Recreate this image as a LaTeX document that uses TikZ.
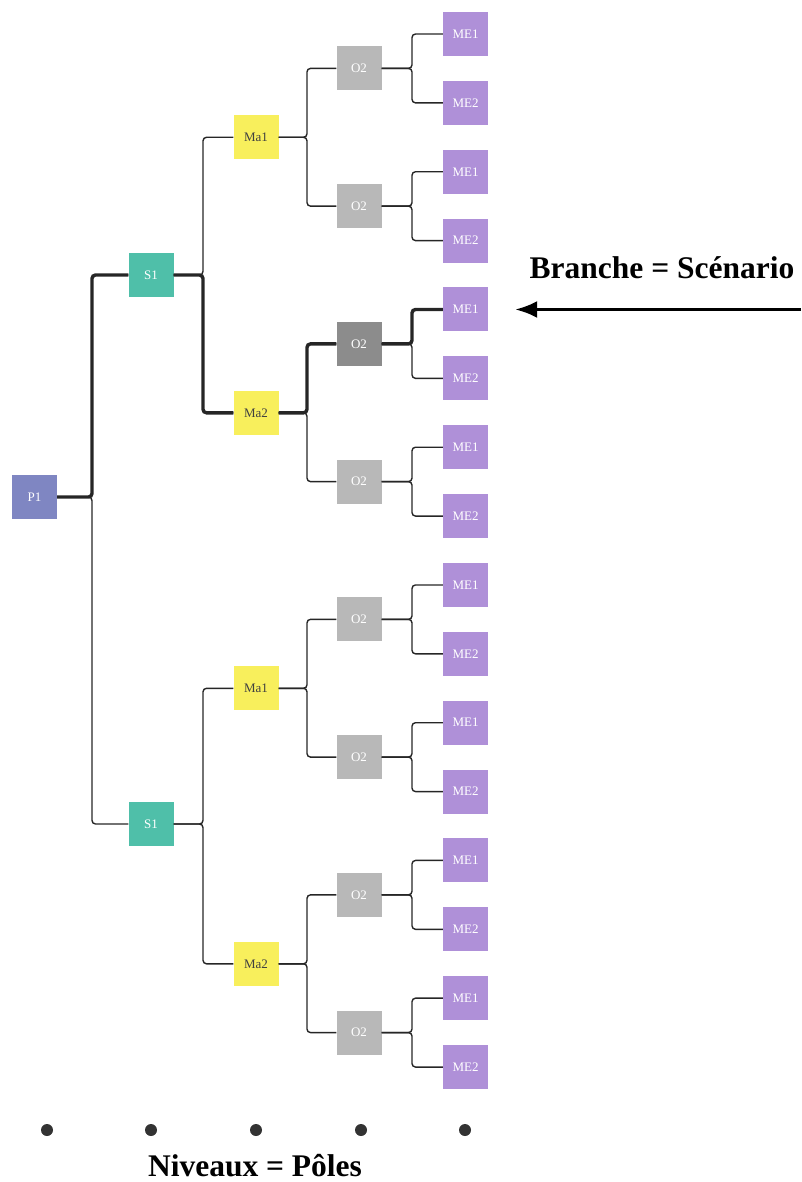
\documentclass[tikz,border=0pt]{standalone}
\usepackage{fontspec}
\setmainfont{Liberation Serif}
\usetikzlibrary{arrows.meta}

\definecolor{polecol}{HTML}{7F86C2}
\definecolor{scol}{HTML}{4FBFA9}
\definecolor{macol}{HTML}{F8EF5C}
\definecolor{ocol}{HTML}{B8B8B8}
\definecolor{oselcol}{HTML}{8C8C8C}
\definecolor{mecol}{HTML}{AF90D8}

\begin{document}
\begin{tikzpicture}[x=1pt, y=-1pt, font=\fontsize{13}{15}\selectfont,
  box/.style={minimum width=45pt, minimum height=44pt, inner sep=0pt, text=white},
  link/.style={draw=black!85, line width=1.4pt, rounded corners=3.5pt},
  scen/.style={link, line width=3.4pt},
  pointer/.style={-{Latex[length=22pt, width=17pt]}, line width=3pt},
  ]
  \useasboundingbox (0,0) rectangle (801,1182);

  %%% junction columns %%%
  \coordinate (jx1) at (92,0);
  \coordinate (jx2) at (203,0);
  \coordinate (jx3) at (307,0);
  \coordinate (jx4) at (412,0);
  \coordinate (rim) at (801,0);

  %%% tree levels %%%
  \node[box, fill=polecol] (p1) at (34.5,497) {P1};
  \foreach \i in {0,1}
    \node[box, fill=scol] (s1-\i) at (151,275+549*\i) {S1};
  \foreach \i in {0,...,3} {
    \pgfmathtruncatemacro{\k}{mod(\i,2)+1}
    \node[box, fill=macol, text=black!75] (ma-\i) at (256,137.3+275.5*\i) {Ma\k};
  }
  \foreach \i in {0,...,7} {
    \ifnum\i=2 \def\oc{oselcol}\else\def\oc{ocol}\fi
    \node[box, fill=\oc] (o2-\i) at (359,68.4+137.74*\i) {O2};
  }
  \foreach \i in {0,...,15} {
    \pgfmathtruncatemacro{\k}{mod(\i,2)+1}
    \node[box, fill=mecol] (me-\i) at (465.5,34+68.87*\i) {ME\k};
  }

  %%% connectors %%%
  \foreach \c in {0,1}
    \draw[link] (p1) -- (p1 -| jx1) |- (s1-\c);
  \foreach \c [evaluate=\c as \p using int(\c/2)] in {0,...,3}
    \draw[link] (s1-\p) -- (s1-\p -| jx2) |- (ma-\c);
  \foreach \c [evaluate=\c as \p using int(\c/2)] in {0,...,7}
    \draw[link] (ma-\p) -- (ma-\p -| jx3) |- (o2-\c);
  \foreach \c [evaluate=\c as \p using int(\c/2)] in {0,...,15}
    \draw[link] (o2-\p) -- (o2-\p -| jx4) |- (me-\c);

  %%% highlighted scenario %%%
  \draw[scen] (p1) -- (p1 -| jx1) |- (s1-0);
  \draw[scen] (s1-0) -- (s1-0 -| jx2) |- (ma-1);
  \draw[scen] (ma-1) -- (ma-1 -| jx3) |- (o2-2);
  \draw[scen] (o2-2) -- (o2-2 -| jx4) |- (me-4);

  %%% branch caption %%%
  \node[font=\bfseries\fontsize{31.5}{34}\selectfont] (branch) at (662,268) {Branche = Scénario};
  \coordinate (arrow-start) at (me-4 -| rim);
  \draw[pointer, shorten >=27pt] (arrow-start) -- (me-4);

  %%% level dots %%%
  \foreach \dx in {47,151,256,361,465}
    \fill[black!80] (\dx,1130) circle (6pt);
  \node[font=\bfseries\fontsize{31.5}{34}\selectfont] (levels) at (255,1166) {Niveaux = Pôles};
\end{tikzpicture}
\end{document}
